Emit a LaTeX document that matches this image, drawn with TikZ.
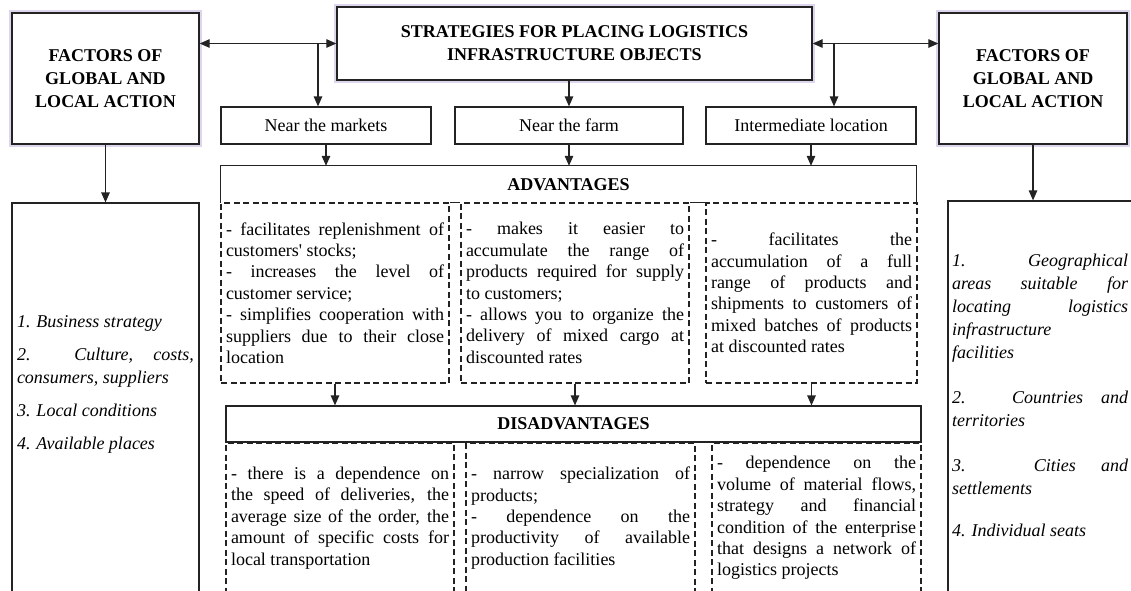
\documentclass[tikz,border=0pt]{standalone}
\usepackage{fontspec}
\setmainfont{Liberation Serif}
\usetikzlibrary{arrows.meta}
\definecolor{glow}{RGB}{220,213,236}
\definecolor{ink}{RGB}{35,35,35}
\tolerance=10000
\hbadness=10000
\hyphenpenalty=10000
\exhyphenpenalty=10000
\tikzset{
every node/.style={font=\fontsize{18}{21.4}\selectfont,inner sep=0pt},
headbox/.style={draw=ink,line width=1.3pt,fill=white,preaction={draw=glow,line width=6.5pt},align=center,font=\fontsize{18}{23}\selectfont\bfseries},
waybox/.style={draw=ink,line width=1.2pt,align=center},
notebox/.style={draw=ink,line width=1.2pt,dash pattern=on 6pt off 3.5pt,inner xsep=5pt,align=justify},
listbox/.style={draw=ink,line width=1.2pt},
listtext/.style={align=justify,font=\fontsize{18}{23}\selectfont\itshape},
link/.style={draw=ink,line width=1.2pt}
}
\begin{document}
\begin{tikzpicture}[x=1pt,y=-1pt,>={Triangle[length=10pt,width=8.5pt]}]
\useasboundingbox (0,0) rectangle (1131,590);
\clip (0,0) rectangle (1131,590);
\pgfmathsetmacro{\kh}{37}
\pgfmathsetmacro{\kn}{180}
\pgfmathsetmacro{\kd}{150}
\node[headbox,minimum width=187,minimum height=131] (fl) at (105.5,78.5) {FACTORS OF\\GLOBAL AND\\LOCAL ACTION};
\node[headbox,minimum width=475,minimum height=73] (st) at (574.5,43.5) {STRATEGIES FOR PLACING LOGISTICS\\INFRASTRUCTURE OBJECTS};
\node[headbox,minimum width=188,minimum height=131] (fr) at (1033,78.5) {FACTORS OF\\GLOBAL AND\\LOCAL ACTION};
\node[waybox,minimum width=210,minimum height=\kh] (mk) at (326,125.5) {Near the markets};
\node[waybox,minimum width=228,minimum height=\kh] (fm) at (569,125.5) {Near the farm};
\node[waybox,minimum width=210,minimum height=\kh] (im) at (811,125.5) {Intermediate location};
\node[font=\fontsize{18}{21.4}\selectfont\bfseries,minimum width=695,minimum height=\kh] (ah) at (568.5,184.5) {ADVANTAGES};
\node[notebox,minimum width=228,minimum height=\kn,text width=218] (a1) at (335,293) {- facilitates replenishment of\linebreak customers\textquotesingle{} stocks;\\ - increases the level of\linebreak customer service;\\ - simplifies cooperation with\linebreak suppliers due to their close\linebreak location};
\node[notebox,minimum width=228,minimum height=\kn,text width=218] (a2) at (575,293) {- makes it easier to\linebreak accumulate the range of\linebreak products required for supply\linebreak to customers;\\ - allows you to organize the\linebreak delivery of mixed cargo at\linebreak discounted rates};
\node[notebox,minimum width=211,minimum height=\kn,text width=201] (a3) at (811.5,293) {- facilitates the\linebreak accumulation of a full\linebreak range of products and\linebreak shipments to customers of\linebreak mixed batches of products\linebreak at discounted rates};
\draw[link] (ah.south west) |- (ah.north east) -- (ah.south east) (a1.north east) -- (a2.north west) (a2.north east) -- (a3.north west);
\node[waybox,font=\fontsize{18}{21.4}\selectfont\bfseries,minimum width=695,minimum height=36] (dh) at (573.5,424) {DISADVANTAGES};
\node[notebox,minimum width=228,minimum height=\kd,text width=218] (d1) at (340,518) {- there is a dependence on\linebreak the speed of deliveries, the\linebreak average size of the order, the\linebreak amount of specific costs for\linebreak local transportation};
\node[notebox,minimum width=229,minimum height=\kd,text width=219] (d2) at (580.5,518) {- narrow specialization of\linebreak products;\\ - dependence on the\linebreak productivity of available\linebreak production facilities};
\node[notebox,minimum width=209,minimum height=\kd,text width=199] (d3) at (816.5,518) {- dependence on the\linebreak volume of material flows,\linebreak strategy and financial\linebreak condition of the enterprise\linebreak that designs a network of\linebreak logistics projects};
\node[listbox,minimum width=187,minimum height=397] (ll) at (105.5,401.5) {};
\node[listbox,minimum width=188,minimum height=399] (lr) at (1042,400.5) {};
\node[listtext,text width=177] (lt) at (105.5,384) {1. Business strategy\\[10pt] 2. Culture, costs,\linebreak consumers, suppliers\\[10pt] 3. Local conditions\\[10pt] 4. Available places};
\node[listtext,text width=176] (rt) at (1040,395) {1. Geographical\linebreak areas suitable for\linebreak locating logistics\linebreak infrastructure\linebreak facilities\\[22pt] 2. Countries and\linebreak territories\\[22pt] 3. Cities and\linebreak settlements\\[19pt] 4. Individual seats};
\coordinate (jl) at ([xshift=-8pt]mk.north |- st.west);
\coordinate (jr) at ([xshift=23pt]im.north |- st.east);
\draw[link,<->] (fl.east |- st.west) -- (st.west);
\draw[link,<->] (st.east) -- (fr.west |- st.east);
\draw[link,->] (jl) -- (jl |- mk.north);
\draw[link,->] (jr) -- (jr |- im.north);
\draw[link,->] (fm.north |- st.south) -- (fm.north);
\foreach \a/\b in {mk/ah,fm/ah,im/ah,a1/dh,a2/dh,a3/dh,fl/ll,fr/lr}
\draw[link,->] (\a.south) -- (\a.south |- \b.north);
\end{tikzpicture}
\end{document}
